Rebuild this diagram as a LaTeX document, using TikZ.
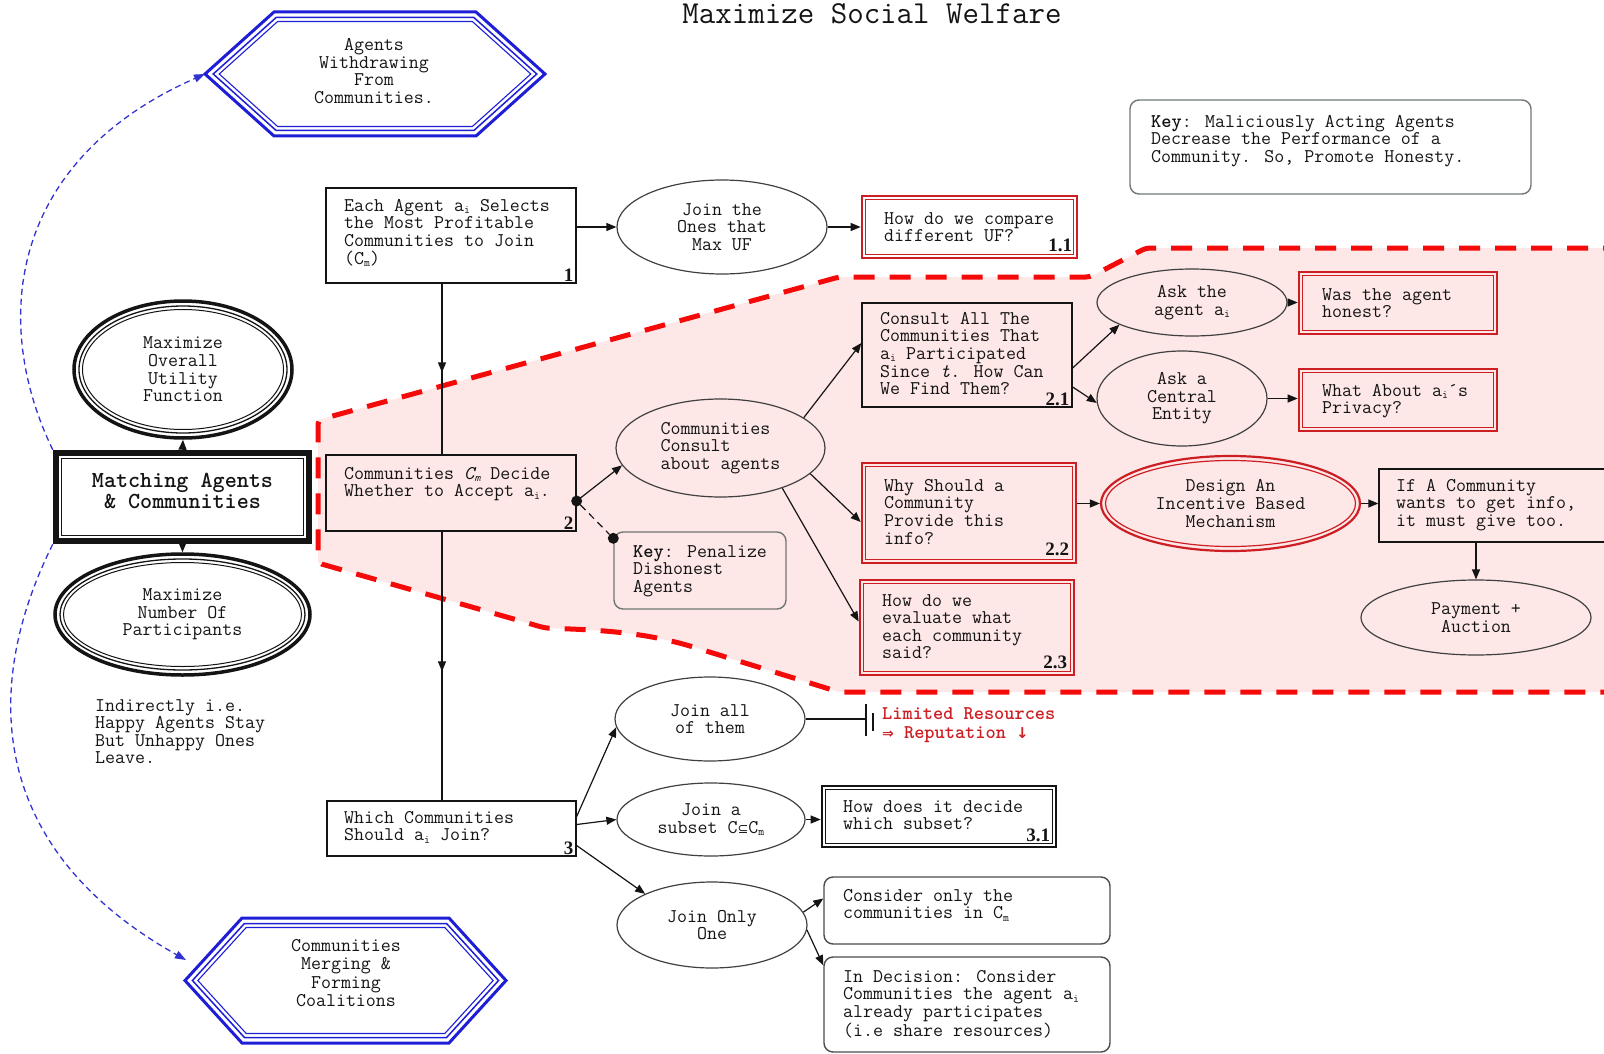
\documentclass[tikz,border=0pt]{standalone}
\usepackage{fontspec}
\newfontfamily\symf{DejaVu Sans}
\newfontfamily\numf{Liberation Serif}
\usetikzlibrary{arrows.meta,calc,shapes.geometric,decorations.markings}

\definecolor{dred}{RGB}{205,30,35}
\definecolor{dashred}{RGB}{245,10,10}
\definecolor{pinkbg}{RGB}{253,231,231}
\definecolor{hexblue}{RGB}{30,30,215}
\definecolor{dashblue}{RGB}{50,50,210}
\definecolor{keygray}{RGB}{110,120,110}
\definecolor{ink}{RGB}{20,20,20}

\newcommand\sbs[1]{\raisebox{-0.12em}{\fontsize{11.5}{11.5}\selectfont #1}}
\newcommand\hexring[7]{%
  \pgfmathsetmacro\hxsx{#3-#4}%
  \pgfmathsetmacro\hxlen{sqrt(\hxsx*\hxsx+#5*#5)}%
  \pgfmathsetmacro\hxti{#6*\hxlen/#5}%
  \pgfmathsetmacro\hxci{#6*(\hxlen-\hxsx)/#5}%
  \draw[#7] ({#1-#3+\hxti},#2) -- ({#1-#4+\hxci},{#2-#5+#6}) -- ({#1+#4-\hxci},{#2-#5+#6}) -- ({#1+#3-\hxti},#2) -- ({#1+#4-\hxci},{#2+#5-#6}) -- ({#1-#4+\hxci},{#2+#5-#6}) -- cycle;}

\tikzset{
 ft/.style={font=\ttfamily\fontsize{19.4}{17.6}\selectfont},
 tx/.style={ft, align=left, inner sep=0pt, anchor=north west, text=ink},
 ctx/.style={ft, align=center, inner sep=0pt, text=ink},
 bx/.style={draw=ink, line width=1.3pt, rectangle, inner sep=0pt},
 ell/.style={ft, draw=black!75, line width=1.2pt, ellipse, inner sep=0pt, align=center, text=ink},
 arr/.style={draw=ink, line width=1.2pt, -{Triangle[length=10pt,width=8pt]}},
 num/.style={font=\numf\bfseries\fontsize{19}{19}\selectfont, inner sep=0pt, anchor=south east, text=ink},
 keybx/.style={draw=keygray, line width=1.4pt, rounded corners=9pt, rectangle, inner sep=0pt},
 redbx/.style={draw=dred, line width=2.6pt, rectangle, inner sep=0pt},
 redin/.style={draw=dred, line width=1.2pt},
 blob/.style={circle, fill=ink, inner sep=0pt, minimum size=11pt},
 midarr/.style={draw=ink, line width=1.2pt, postaction={decorate}, decoration={markings, mark=at position 0.52 with {\arrow{Triangle[length=10pt,width=8pt]}}}},
 bluearr/.style={dashblue, line width=1.3pt, dash pattern=on 6pt off 4pt, -{Triangle[length=11pt,width=8pt]}},
}

\begin{document}
\begin{tikzpicture}[x=1pt,y=-1pt]
\useasboundingbox (0,0) rectangle (1604,1054);
\clip (0,0) rectangle (1604,1054);

% highlighted region
\fill[pinkbg] (318,420) -- (839,277) -- (1090,277) -- (1146,248) -- (1660,248) -- (1660,692) -- (839,692) -- (690,646) .. controls (640,632) and (600,630) .. (545,628) -- (318,563) -- cycle;
\draw[dashred, line width=5pt, dash pattern=on 21pt off 15pt, rounded corners=4pt] (1660,248) -- (1146,248) -- (1090,277) -- (839,277) -- (318,420) -- (318,563) -- (545,628) .. controls (600,630) and (640,632) .. (690,646) -- (839,692) -- (1660,692);

% title
\node[font=\ttfamily\fontsize{32}{33}\selectfont, inner sep=0pt, anchor=base, text=ink] (title) at (872,24) {Maximize Social Welfare};

% hexagons
\hexring{375}{74}{170}{101}{62}{0}{hexblue, line width=3pt, line join=miter}
\hexring{375}{74}{170}{101}{62}{5.5}{hexblue, line width=1.5pt, line join=miter}
\hexring{375}{74}{170}{101}{62}{9.5}{hexblue, line width=1.1pt, line join=miter}
\node[ctx] (hexA) at (374,71) {Agents\\Withdrawing\\From\\Communities.};
\coordinate (hexAtip) at (205,74);

\hexring{345.5}{980.5}{160.5}{103.5}{62.5}{0}{hexblue, line width=3pt, line join=miter}
\hexring{345.5}{980.5}{160.5}{103.5}{62.5}{5.5}{hexblue, line width=1.5pt, line join=miter}
\hexring{345.5}{980.5}{160.5}{103.5}{62.5}{9.5}{hexblue, line width=1.1pt, line join=miter}
\node[ctx, font=\ttfamily\fontsize{19.4}{18.6}\selectfont] (hexB) at (346,973) {Communities\\Merging \&\\Forming\\Coalitions};
\coordinate (hexBtip) at (186,960);

% left column
\node[draw=ink, line width=4.5pt, rectangle, minimum width=255pt, minimum height=90pt, inner sep=0pt] (match) at (182.5,497) {};
\draw[ink, line width=1.8pt] ($(match.north west)+(5.5,5.5)$) rectangle ($(match.south east)+(-5.5,-5.5)$);
\draw[ink, line width=1pt] ($(match.north west)+(9,9)$) rectangle ($(match.south east)+(-9,-9)$);
\node[font=\ttfamily\bfseries\fontsize{23}{18.5}\selectfont, align=center, inner sep=0pt, text=ink] (matcht) at (182.5,491) {Matching Agents\\\& Communities};

\node[ell, draw=ink, line width=3.5pt, minimum width=218pt, minimum height=137pt] (mou) at (183,369.5) {Maximize\\Overall\\Utility\\Function};
\draw[ink, line width=1.3pt] (mou.center) ellipse [x radius=104, y radius=63.5];
\draw[ink, line width=1pt] (mou.center) ellipse [x radius=100.5, y radius=60];

\node[ell, draw=ink, line width=3.5pt, minimum width=255pt, minimum height=121pt] (mnp) at (182.5,614.5) {Maximize\\Number Of\\Participants};
\draw[ink, line width=1.3pt] (mnp.center) ellipse [x radius=122.5, y radius=55.5];
\draw[ink, line width=1pt] (mnp.center) ellipse [x radius=119, y radius=52];

\draw[arr] (match.north) -- (mou.south);
\draw[arr] (match.south) -- (mnp.north);

\node[tx] (indir) at (95,699) {Indirectly i.e.\\Happy Agents Stay\\But Unhappy Ones\\Leave.};

\draw[bluearr] (match.north west) .. controls (-10,320) and (10,160) .. (hexAtip);
\draw[bluearr] (match.south west) .. controls (-20,690) and (-10,850) .. (hexBtip);

% key top right
\node[keybx, minimum width=401pt, minimum height=94pt] (key1) at (1330.5,147) {};
\node[tx] (key1t) at (1151,115) {\textbf{Key}: Maliciously Acting Agents\\Decrease the Performance of a\\Community. So, Promote Honesty.};

% step 1
\node[bx, minimum width=250pt, minimum height=95pt] (b1) at (451,235.5) {};
\node[tx] (b1t) at (344,199) {Each Agent a\sbs{i} Selects\\the Most Profitable\\Communities to Join\\(C\sbs{m})};
\node[num] (b1n) at ($(b1.south east)+(-3,-2)$) {1};

\node[ell, minimum width=210pt, minimum height=94pt] (jt) at (722,227) {Join the\\Ones that\\Max UF};

\node[redbx, minimum width=215pt, minimum height=62pt] (b11) at (969.5,227) {};
\node[tx] (b11t) at (884,212) {How do we compare\\different UF?};
\node[num] (b11n) at ($(b11.south east)+(-6,-7)$) {1.1};

% step 2
\node[bx, minimum width=250pt, minimum height=76pt] (b2) at (451,493) {};
\node[tx] (b2t) at (344,467) {Communities {\itshape C\sbs{m}} Decide\\Whether to Accept a\sbs{i}.};
\node[num] (b2n) at ($(b2.south east)+(-3,-2)$) {2};

\node[keybx, minimum width=172pt, minimum height=77pt] (key2) at (700,570.5) {};
\node[tx] (key2t) at (633,545) {\textbf{Key}: Penalize\\Dishonest\\Agents};

\node[ell, align=left, minimum width=209pt, minimum height=98pt] (cons) at (720.5,448) {Communities\\Consult\\about agents};

\node[bx, minimum width=210pt, minimum height=104pt] (b21) at (967,355) {};
\node[tx] (b21t) at (880,312) {Consult All The\\Communities That\\a\sbs{i} Participated\\Since {\itshape t}. How Can\\We Find Them?};
\node[num] (b21n) at ($(b21.south east)+(-3,-2)$) {2.1};

\node[ell, minimum width=190pt, minimum height=67pt] (ask) at (1192,302.5) {Ask the\\agent a\sbs{i}};
\node[ell, minimum width=170pt, minimum height=95pt] (cen) at (1182,398.5) {Ask a\\Central\\Entity};

\node[redbx, minimum width=198pt, minimum height=62pt] (hon) at (1398,303) {};
\node[tx] (hont) at (1322,288) {Was the agent\\honest?};
\node[redbx, minimum width=198pt, minimum height=62pt] (priv) at (1398,400) {};
\node[tx] (privt) at (1322,384) {What About a\sbs{i}´s\\Privacy?};

\node[redbx, minimum width=214pt, minimum height=100pt] (b22) at (969,513) {};
\node[tx] (b22t) at (884,479) {Why Should a\\Community\\Provide this\\info?};
\node[num] (b22n) at ($(b22.south east)+(-8,-8)$) {2.2};

\node[redbx, minimum width=214pt, minimum height=95pt] (b23) at (967,627.5) {};
\node[tx] (b23t) at (882,594) {How do we\\evaluate what\\each community\\said?};
\node[num] (b23n) at ($(b23.south east)+(-8,-7)$) {2.3};

\node[ell, draw=dred, line width=2.2pt, minimum width=259pt, minimum height=95pt] (des) at (1230.5,503.5) {Design An\\Incentive Based\\Mechanism};
\draw[dred, line width=1.2pt] (des.center) ellipse [x radius=125, y radius=43];

\node[bx, minimum width=261pt, minimum height=73pt] (if) at (1509.5,505.5) {};
\node[tx] (ift) at (1396,479) {If A Community\\wants to get info,\\it must give too.};

\node[ell, minimum width=230pt, minimum height=75pt] (pay) at (1476,617.5) {Payment +\\Auction};

\foreach \n in {b11,hon,priv,b22,b23}
  \draw[redin] ($(\n.north west)+(5,5)$) rectangle ($(\n.south east)+(-5,-5)$);

% step 3
\node[bx, minimum width=249pt, minimum height=55pt] (b3) at (451.5,828.5) {};
\node[tx] (b3t) at (344,811) {Which Communities\\Should a\sbs{i} Join?};
\node[num] (b3n) at ($(b3.south east)+(-3,-2)$) {3};

\node[ell, minimum width=190pt, minimum height=84pt] (ja) at (710,719) {Join all\\of them};
\node[ell, minimum width=188pt, minimum height=73pt] (sub) at (711,819.5) {Join a\\subset C{\symf\fontsize{13}{13}\selectfont ⊆}C\sbs{m}};
\node[ell, minimum width=190pt, minimum height=86pt] (only) at (712,925) {Join Only\\One};

\node[draw=ink, line width=2.6pt, rectangle, inner sep=0pt, minimum width=234pt, minimum height=61pt] (b31) at (939,816.5) {};
\draw[ink, line width=1.2pt] ($(b31.north west)+(5,5)$) rectangle ($(b31.south east)+(-5,-5)$);
\node[tx] (b31t) at (843,800) {How does it decide\\which subset?};
\node[num] (b31n) at ($(b31.south east)+(-7,-6)$) {3.1};

\node[keybx, draw=black!70, minimum width=286pt, minimum height=67pt] (con) at (967,910.5) {};
\node[tx] (cont) at (843,889) {Consider only the\\communities in C\sbs{m}};
\node[keybx, draw=black!70, minimum width=286pt, minimum height=95pt] (dec) at (967,1004.5) {};
\node[tx] (dect) at (843,970) {In Decision: Consider\\Communities the agent a\sbs{i}\\already participates\\(i.e share resources)};

\coordinate (bar) at (866,719);
\node[tx, text=dred, font=\ttfamily\bfseries\fontsize{19.4}{19.5}\selectfont] (lim) at (882,707) {Limited Resources\\{\symf\fontsize{14}{14}\selectfont ⇒} Reputation {\symf\fontsize{15}{15}\selectfont ↓}};

% connectors
\draw[arr] (b1.east |- jt.west) -- (jt.west);
\draw[arr] (jt.east) -- (jt.east -| b11.west);
\draw[midarr] ($(b1.south)+(-9,0)$) -- ($(b2.north)+(-9,0)$);
\draw[midarr] ($(b2.south)+(-9,0)$) -- ($(b3.north)+(-9.5,0)$);

\node[blob] (d1) at ($(b2.east)+(0,8)$) {};
\node[blob] (d2) at ($(key2.north west)+(0,7)$) {};
\draw[arr] (d1.center) -- (cons.190);
\draw[ink, line width=1.2pt, dash pattern=on 7pt off 5pt] (d1) -- (d2);

\draw[arr] (cons.20) -- ($(b21.west)+(0,-12)$);
\draw[arr] (cons.-16) -- ($(b22.west)+(0,9)$);
\draw[arr] (cons.-33) -- ($(b23.west)+(0,-6)$);
\draw[arr] ($(b21.east)+(0,13)$) -- (ask.197);
\draw[arr] ($(b21.east)+(0,32)$) -- (cen.183);
\draw[arr] (ask.east) -- (ask.east -| hon.west);
\draw[arr] (cen.east) -- (cen.east -| priv.west);
\draw[arr] (b22.east |- des.west) -- (des.west);
\draw[arr] (des.east) -- (des.east -| if.west);
\draw[arr] (pay.north |- if.south) -- (pay.north);

\draw[arr] ($(b3.east)+(0,-12)$) -- (ja.185);
\draw[arr] ($(b3.east)+(0,-4)$) -- (sub.west);
\draw[arr] ($(b3.east)+(0,17)$) -- (only.155);
\draw[ink, line width=1.2pt] (ja.east) -- (bar);
\draw[ink, line width=1.5pt] ($(bar)+(0,-15)$) -- ($(bar)+(0,17)$);
\draw[ink, line width=1.2pt] ($(bar)+(7,-6)$) -- ($(bar)+(7,12)$);
\draw[arr] (sub.east) -- (sub.east -| b31.west);
\draw[arr] (only.8) -- ($(con.west)+(0,-12)$);
\draw[arr] (only.-3) -- ($(dec.north west)+(0,9)$);
\end{tikzpicture}
\end{document}
